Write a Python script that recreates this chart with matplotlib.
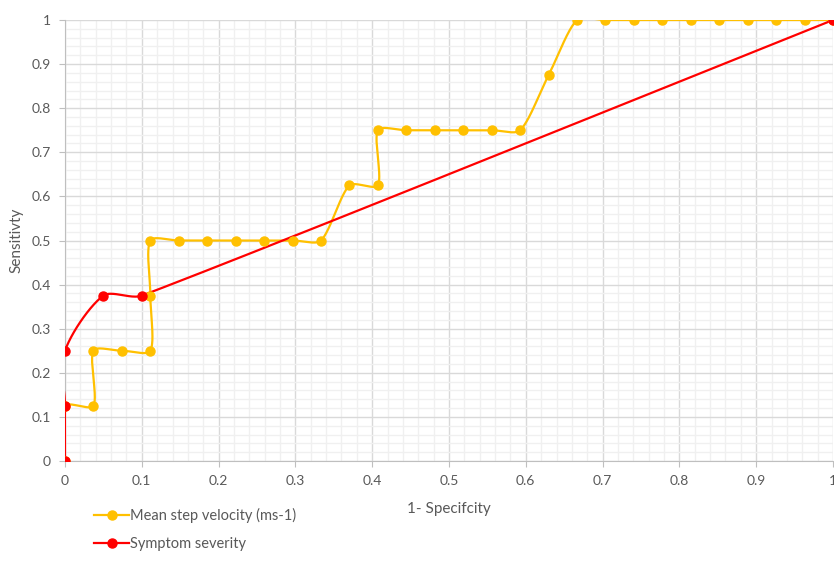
import numpy as np
import matplotlib.pyplot as plt
from matplotlib.ticker import MultipleLocator

plt.rcParams['font.family'] = ['Lato', 'DejaVu Sans']

# Data
k = 1 / 27
msv_x = [0, 0, k, k, 2*k, 3*k, 3*k, 3*k, 4*k, 5*k, 6*k, 7*k, 8*k, 9*k, 10*k, 11*k, 11*k,
         12*k, 13*k, 14*k, 15*k, 16*k, 17*k, 18*k, 19*k, 20*k, 21*k, 22*k, 23*k, 24*k,
         25*k, 26*k, 27*k]
msv_y = [0, 0.125, 0.125, 0.25, 0.25, 0.25, 0.375, 0.5, 0.5, 0.5, 0.5, 0.5, 0.5, 0.5,
         0.625, 0.625, 0.75, 0.75, 0.75, 0.75, 0.75, 0.75, 0.875, 1, 1, 1, 1, 1, 1, 1,
         1, 1, 1]
sev_x = [0, 0, 0, 0.05, 0.1, 1]
sev_y = [0, 0.125, 0.25, 0.375, 0.375, 1]

labels = ['Mean step velocity (ms-1)', 'Symptom severity']
colors = ['#FFC000', '#FF0000']


def cap(v, m):
    n = np.hypot(*v)
    return v * (m / n) if n > m else v


# Excel-like smoothed line: Catmull-Rom bezier, handles capped at a third of
# the segment so short segments next to long ones don't loop
def smooth(x, y, n=40):
    p = np.column_stack([x, y]).astype(float)
    p = np.vstack([p[0], p, p[-1]])
    out = []
    t = np.linspace(0, 1, n)[:, None]
    for i in range(1, len(p) - 2):
        p0, p1, p2, p3 = p[i - 1], p[i], p[i + 1], p[i + 2]
        L = np.hypot(*(p2 - p1))
        c1 = p1 + cap((p2 - p0) / 6, L / 3)
        c2 = p2 - cap((p3 - p1) / 6, L / 3)
        seg = ((1 - t) ** 3) * p1 + 3 * ((1 - t) ** 2) * t * c1 + 3 * (1 - t) * t ** 2 * c2 + t ** 3 * p2
        out.append(seg)
    s = np.vstack(out)
    return s[:, 0], s[:, 1]


fig = plt.figure(figsize=(8.34, 5.81), dpi=100)
ax = fig.add_axes([65 / 834, 1 - 461 / 581, 768 / 834, 441 / 581])

for xs, ys, c, lab in [(msv_x, msv_y, colors[0], labels[0]), (sev_x, sev_y, colors[1], labels[1])]:
    sx, sy = smooth(xs, ys)
    ax.plot(sx, sy, color=c, lw=1.6, zorder=3)
    ax.plot(xs, ys, 'o', color=c, ms=6.5, zorder=4)
    ax.plot([], [], '-o', color=c, lw=1.6, ms=6.5, label=lab)

ax.set_xlim(0, 1)
ax.set_ylim(0, 1)
ax.xaxis.set_minor_locator(MultipleLocator(0.02))
ax.yaxis.set_minor_locator(MultipleLocator(0.02))
ax.grid(which='major', color='#D9D9D9', lw=1.0, zorder=1)
ax.grid(which='minor', color='#F0F0F0', lw=1.0, zorder=0)
ax.set_axisbelow(True)

fmt = lambda v: '0' if v == 0 else ('1' if v == 1 else f'{v:.1f}')
ticks = np.round(np.arange(0, 1.01, 0.1), 1)
ax.set_xticks(ticks)
ax.set_yticks(ticks)
ax.set_xticklabels([fmt(v) for v in ticks])
ax.set_yticklabels([fmt(v) for v in ticks])
ax.tick_params(which='major', length=4, color='#BFBFBF', labelsize=10, labelcolor='#595959', pad=6)
ax.tick_params(which='minor', length=0)

for s in ['top', 'right']:
    ax.spines[s].set_visible(False)
for s in ['left', 'bottom']:
    ax.spines[s].set_color('#BFBFBF')

ax.set_xlabel('1- Specifcity', fontsize=11, color='#595959', labelpad=11)
ax.set_ylabel('Sensitivty', fontsize=11, color='#595959', labelpad=6)

fig.legend(loc='upper left', bbox_to_anchor=(81 / 834, 1 - 495 / 581), frameon=False,
           fontsize=10.5, labelcolor='#595959', handlelength=2.4, handletextpad=0.05,
           labelspacing=0.95)

fig.savefig('out.png', dpi=100)
